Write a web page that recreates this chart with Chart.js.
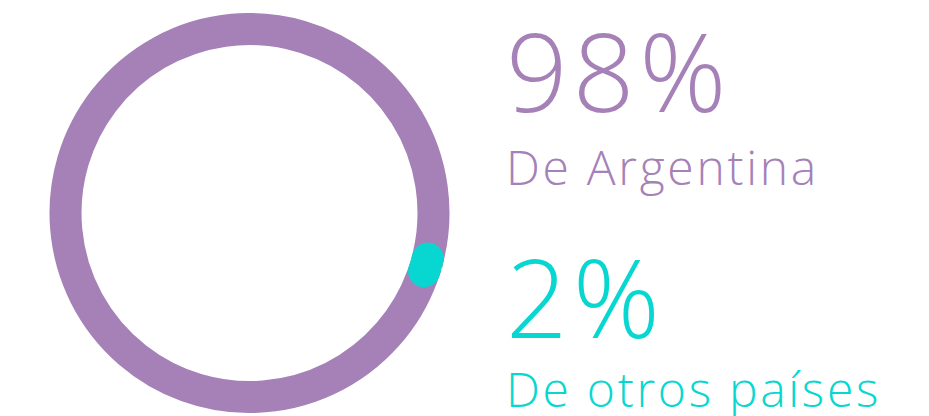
<!DOCTYPE html>
<html lang="es">
<head>
  <meta charset="UTF-8">
  <title>Origen</title>
  <script src="https://cdn.jsdelivr.net/npm/chart.js"></script>
  <style>
    html, body { margin: 0; padding: 0; background: #fff; overflow: hidden; }
    body { width: 929px; height: 416px; position: relative; font-family: "Open Sans", sans-serif; font-weight: 300; }
    #ring { position: absolute; left: 49px; top: 13px; width: 401px; height: 400px; }
    .big, .label { position: absolute; left: 506px; line-height: 1; white-space: nowrap; }
    .big { font-size: 108px; letter-spacing: 5px; }
    .label { font-size: 48px; letter-spacing: 2.7px; }
  </style>
</head>
<body>
  <div id="ring"><canvas id="originChart"></canvas></div>
  <div id="texts"></div>

  <script>
    const labels = ['De Argentina', 'De otros países'];
    const values = [98, 2];
    const colors = ['#a581b8', '#08d7d1'];

    // big number + caption, one block per category
    const tops = [[17, 143], [243, 365]];
    const texts = document.getElementById('texts');
    labels.forEach((name, i) => {
      const big = document.createElement('div');
      big.className = 'big';
      big.style.top = tops[i][0] + 'px';
      big.style.color = colors[i];
      big.textContent = values[i] + '%';
      const cap = document.createElement('div');
      cap.className = 'label';
      cap.style.top = tops[i][1] + 'px';
      cap.style.color = colors[i];
      cap.textContent = name;
      texts.appendChild(big);
      texts.appendChild(cap);
    });

    new Chart(document.getElementById('originChart'), {
      type: 'doughnut',
      data: {
        labels: labels,
        datasets: [{
          data: values,
          backgroundColor: colors,
          borderColor: colors,
          borderWidth: 22,
          borderJoinStyle: ['miter', 'round'],
          borderRadius: [0, 5]
        }]
      },
      options: {
        responsive: true,
        maintainAspectRatio: false,
        animation: false,
        events: [],
        rotation: 110,
        radius: 189,
        cutout: '94.7%',
        layout: { padding: 0 },
        plugins: { legend: { display: false }, tooltip: { enabled: false } }
      }
    });
  </script>
</body>
</html>
